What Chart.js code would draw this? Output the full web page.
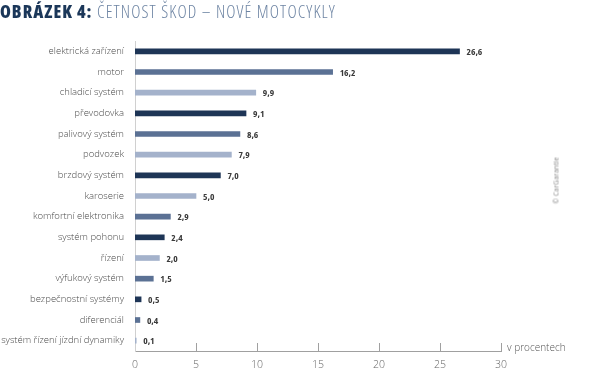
<!DOCTYPE html>
<html>
<head>
<meta charset="utf-8">
<script src="https://cdn.jsdelivr.net/npm/chart.js@4/dist/chart.umd.min.js"></script>
<style>
    html, body { margin: 0; padding: 0; background: #fff; }
    #wrap { position: relative; width: 600px; height: 371px; }
    #title {
        position: absolute; left: 0; top: 0; white-space: nowrap;
        font-family: "Open Sans", sans-serif; font-size: 17.5px; line-height: 22px;
    }
    #title b { color: #1b3759; font-weight: 800; font-stretch: condensed; letter-spacing: 1px; }
    #title span { color: #6d84a3; font-weight: 300; font-stretch: condensed; letter-spacing: 1.1px; }
    #credit {
        position: absolute; left: 526px; top: 176px; width: 60px; text-align: center;
        font-family: "Open Sans", sans-serif; font-size: 7px; color: #8a8a8a;
        transform: rotate(-90deg); white-space: nowrap;
    }
    canvas { position: absolute; left: 0; top: 0; }
</style>
</head>
<body>
<div id="wrap">
    <canvas id="chart" width="600" height="371"></canvas>
    <div id="title"><b>OBRÁZEK 4:</b> <span>ČETNOST ŠKOD – NOVÉ MOTOCYKLY</span></div>
    <div id="credit">© CarGarantie</div>
</div>
<script>
const categories = [
    "elektrická zařízení", "motor", "chladicí systém", "převodovka", "palivový systém",
    "podvozek", "brzdový systém", "karoserie", "komfortní elektronika", "systém pohonu",
    "řízení", "výfukový systém", "bezpečnostní systémy", "diferenciál", "systém řízení jízdní dynamiky"
];
const values = [26.6, 16.2, 9.9, 9.1, 8.6, 7.9, 7.0, 5.0, 2.9, 2.4, 2.0, 1.5, 0.5, 0.4, 0.1];
const xTicks = [0, 5, 10, 15, 20, 25, 30];

// shade of each bar: 0 dark, 1 medium, 2 light
const shadeIndex = [0, 1, 2, 0, 1, 2, 0, 2, 1, 0, 2, 1, 0, 1, 2];
const palette = ["#1e3556", "#5b7194", "#a4b2cb"];

const labelFont = '"Open Sans", sans-serif';

const valueLabels = {
    id: "valueLabels",
    afterDatasetsDraw(chart) {
        const ctx = chart.ctx;
        const meta = chart.getDatasetMeta(0);
        ctx.save();
        ctx.font = 'bold condensed 9.5px ' + labelFont;
        ctx.fillStyle = "#3a3a3a";
        ctx.textBaseline = "middle";
        meta.data.forEach((bar, i) => {
            const txt = values[i].toFixed(1).replace(".", ",");
            ctx.fillText(txt, bar.x + 7, bar.y + 1);
        });
        ctx.restore();
    }
};

const axisTicks = {
    id: "axisTicks",
    afterDraw(chart) {
        const ctx = chart.ctx;
        const x = chart.scales.x;
        const bottom = chart.chartArea.bottom;
        ctx.save();
        ctx.strokeStyle = "#a0a0a0";
        ctx.lineWidth = 1;
        ctx.beginPath();
        xTicks.forEach(t => {
            if (t === 0) return;
            const px = Math.round(x.getPixelForValue(t)) + 0.5;
            ctx.moveTo(px, bottom);
            ctx.lineTo(px, bottom - 8);
        });
        ctx.stroke();
        ctx.font = '300 10px ' + labelFont;
        ctx.fillStyle = "#555";
        ctx.textBaseline = "middle";
        ctx.fillText("v procentech", x.getPixelForValue(30) + 6, bottom - 3);
        ctx.restore();
    }
};

new Chart(document.getElementById("chart"), {
    type: "bar",
    data: {
        labels: categories,
        datasets: [{
            data: values,
            backgroundColor: shadeIndex.map(s => palette[s]),
            barThickness: 5
        }]
    },
    options: {
        indexAxis: "y",
        responsive: false,
        animation: false,
        layout: { padding: { top: 41, right: 99, left: 0, bottom: 0 } },
        plugins: {
            legend: { display: false },
            tooltip: { enabled: false }
        },
        scales: {
            x: {
                min: 0,
                max: 30,
                afterBuildTicks: (scale) => { scale.ticks = xTicks.map(v => ({ value: v })); },
                afterFit: (scale) => { scale.height = 20; },
                grid: { display: false, drawTicks: false },
                border: { display: true, color: "#a0a0a0" },
                ticks: {
                    padding: 8,
                    color: "#666",
                    font: { family: labelFont, size: 10.5, weight: "300" }
                }
            },
            y: {
                afterFit: (scale) => { scale.width = 135; },
                grid: { display: false, drawTicks: false },
                border: { display: true, color: "#d0d0d0" },
                ticks: {
                    padding: 11,
                    color: "#4a4a4a",
                    font: { family: labelFont, size: 9.5, weight: "300" }
                }
            }
        }
    },
    plugins: [valueLabels, axisTicks]
});
</script>
</body>
</html>
